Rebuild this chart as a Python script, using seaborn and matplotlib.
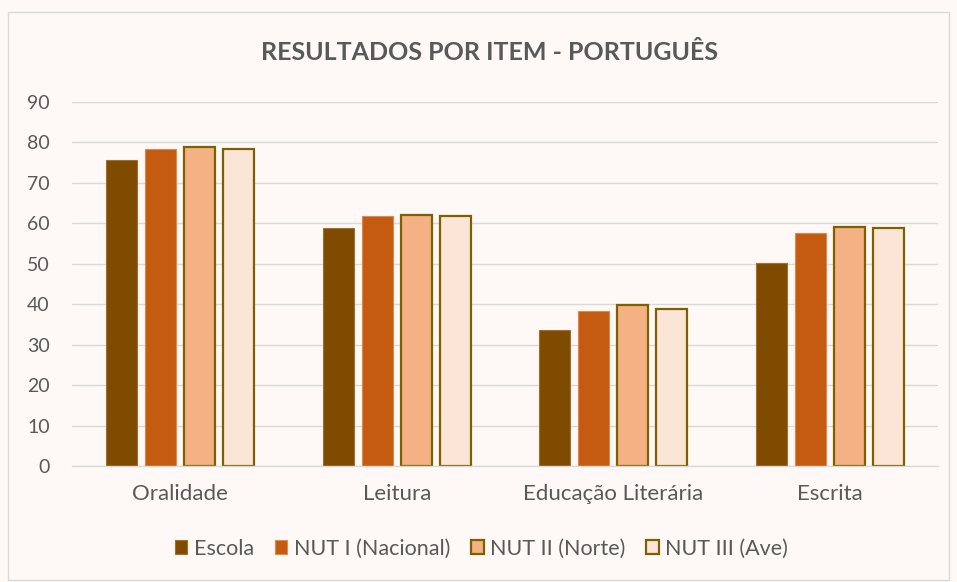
import pandas as pd
import matplotlib.pyplot as plt
import matplotlib.patches as mpatches
import seaborn as sns

# chart data
categories = ["Oralidade", "Leitura", "Educação Literária", "Escrita"]
series = ["Escola", "NUT I (Nacional)", "NUT II (Norte)", "NUT III (Ave)"]
escola = [75.6, 58.9, 33.6, 50.1]
nut1 = [78.3, 61.9, 38.4, 57.7]
nut2 = [78.8, 62.1, 39.8, 59.1]
nut3 = [78.4, 61.7, 38.8, 58.8]

fills = ["#7F4B00", "#C55A11", "#F4B183", "#FBE5D6"]
edges = ["#A0702A", "#E08A50", "#7F6000", "#7F6000"]
bg = "#FEF9F6"
txt = "#595959"

rows = []
for name, vals in zip(series, [escola, nut1, nut2, nut3]):
    for cat, v in zip(categories, vals):
        rows.append({"item": cat, "grupo": name, "valor": v})
df = pd.DataFrame(rows)

sns.set_style("white")
plt.rcParams["font.family"] = ["Lato", "DejaVu Sans"]

fig = plt.figure(figsize=(9.57, 5.82), dpi=100, facecolor=bg)
ax = fig.add_axes([0.0752, 0.1993, 0.905, 0.6254])
ax.set_facecolor(bg)

sns.barplot(data=df, x="item", y="valor", hue="grupo", order=categories,
            hue_order=series, palette=fills, width=0.72, gap=0.2,
            saturation=1, ax=ax, legend=False)

# per-series outlines
for cont, ec in zip(ax.containers, edges):
    lw = 1.6 if ec == "#7F6000" else 0.8
    for bar in cont:
        bar.set_edgecolor(ec)
        bar.set_linewidth(lw)

ax.set_ylim(0, 90)
ax.set_xlim(-0.5, 3.5)
ax.set_yticks(range(0, 91, 10))
ax.yaxis.grid(True, color="#D9D9D9", linewidth=1)
ax.set_axisbelow(True)
for s in ["top", "right", "left"]:
    ax.spines[s].set_visible(False)
ax.spines["bottom"].set_color("#D9D9D9")
ax.spines["bottom"].set_linewidth(1)
ax.tick_params(axis="both", length=0, labelcolor=txt)
ax.tick_params(axis="y", pad=16, labelsize=14)
ax.tick_params(axis="x", pad=13, labelsize=16)
ax.set_xlabel("")
ax.set_ylabel("")

fig.text(0.511, 0.91, "RESULTADOS POR ITEM - PORTUGUÊS", ha="center", va="center",
         fontsize=18, fontweight="bold", color=txt)

handles = [mpatches.Patch(facecolor=f, edgecolor=e, linewidth=1.6 if e == "#7F6000" else 0.8,
                          label=s) for s, f, e in zip(series, fills, edges)]
fig.legend(handles=handles, loc="center", bbox_to_anchor=(0.503, 0.057), ncol=4,
           frameon=False, fontsize=15.5, labelcolor=txt, handlelength=0.6,
           handleheight=0.6, handletextpad=0.3, columnspacing=0.95)

# chart-area border
fig.patches.append(mpatches.Rectangle((0.008, 0.003), 0.984, 0.977, transform=fig.transFigure,
                                      fill=False, edgecolor="#D9D9D9", linewidth=1))

fig.savefig("out.png", dpi=100, facecolor=bg)
